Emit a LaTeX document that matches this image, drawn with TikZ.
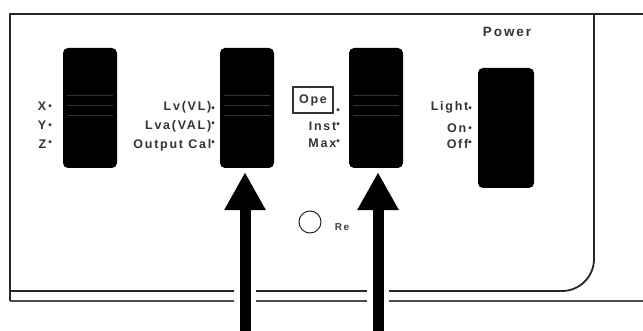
\documentclass[tikz,border=0pt]{standalone}
\usepackage{fontspec}
\setmainfont{Liberation Sans}
\newfontfamily\lblfont{Liberation Sans}[LetterSpace=14]
\usetikzlibrary{arrows.meta, positioning}
\newcommand\dotlo{\raisebox{-0.5pt}{\fontsize{10}{10}\selectfont\textbullet}}
\newcommand\dotmid{\raisebox{1pt}{\fontsize{10}{10}\selectfont\textbullet}}
\newcommand\dothi{\raisebox{3pt}{\fontsize{10}{10}\selectfont\textbullet}}

\begin{document}
\begin{tikzpicture}[x=1pt,y=-1pt,
  switch/.style={fill=black,rounded corners=5pt,minimum width=54pt,
    minimum height=120pt,inner sep=0pt},
  lbl/.style={font={\lblfont\bfseries\fontsize{12.5}{12.5}\selectfont},
    text=black!80,anchor=base east,inner sep=0pt},
  panel/.style={draw=black!85,line width=1.8pt},
  bigarrow/.style={line width=11pt,-{Triangle[length=38pt,width=39pt]},
    shorten >=4pt,preaction={draw=white,line width=22pt,-}}]
  \useasboundingbox (0,0) rectangle (643,331);

  % front panel
  \draw[panel] (10,301) -- (10,14) -- (643,14);
  \draw[panel,rounded corners=32pt] (10,291) -- (594,291) -- (594,14);
  \draw[draw=black!70,line width=1.2pt] (10,301) -- (643,301);

  % switches
  \node[switch] (sx) at (90,108) {};
  \node[switch] (slv) at (247,108) {};
  \node[switch] (sop) at (376,108) {};
  \node[switch,minimum width=56pt] (spw) at (506,128) {};
  \foreach \s in {sx,slv,sop}
    \foreach \dy in {-13,-3,7}
      \draw[black!80,line width=0.5pt] ([shift={(4,\dy)}]\s.west) -- ([shift={(-4,\dy)}]\s.east);

  % labels
  \node[lbl] (lx) at (52,111) {X\,\dotmid};
  \node[lbl] (ly) at (52,130) {Y\,\dotmid};
  \node[lbl] (lz) at (52,149) {Z\,\dothi};
  \node[lbl] (llv) at (215,111) {Lv(VL)\dotlo};
  \node[lbl] (llva) at (215,130) {Lva(VAL)\dothi};
  \node[lbl] (lcal) at (215,149) {Output Cal\dothi};
  \node[draw=black!80,line width=1.2pt,minimum width=40pt,minimum height=26pt,
    inner sep=0pt,font={\lblfont\bfseries\fontsize{12.5}{12.5}\selectfont},
    text=black!80] (lope) at (313,100) {Ope};
  \node[lbl] (lopedot) at (340,113) {\dotlo};
  \node[lbl] (linst) at (340,131) {Inst\dothi};
  \node[lbl] (lmax) at (340,148) {Max\dothi};
  \node[lbl] (llight) at (472,111) {Light\dotlo};
  \node[lbl] (lon) at (472,133) {On\,\dotmid};
  \node[lbl] (loff) at (472,149) {Off\dothi};
  \node[font={\lblfont\bfseries\fontsize{13.5}{13.5}\selectfont},text=black!80]
    (lpower) at (507,32) {Power};

  % reset button
  \node[circle,draw=black!85,line width=1pt,minimum size=22pt,inner sep=0pt]
    (re) at (310,222) {};
  \node[font={\lblfont\bfseries\fontsize{10}{10}\selectfont},text=black!75]
    (lre) at (342,227) {Re};

  % pointers
  \coordinate (a1) at (245,331);
  \coordinate (a2) at (378,331);
  \draw[bigarrow] (a1) -- (a1 |- slv.south);
  \draw[bigarrow] (a2) -- (a2 |- sop.south);
\end{tikzpicture}
\end{document}
